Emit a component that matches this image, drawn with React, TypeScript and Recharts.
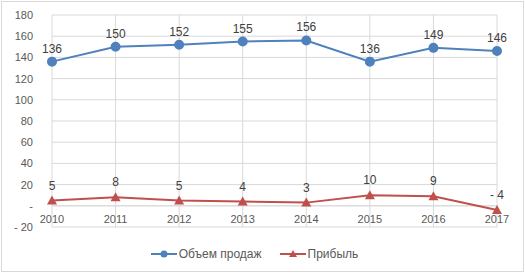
import { LineChart, Line, XAxis, YAxis, CartesianGrid, Legend, LabelList, ReferenceLine } from 'recharts';

const years = ['2010', '2011', '2012', '2013', '2014', '2015', '2016', '2017'];
const sales = [136, 150, 152, 155, 156, 136, 149, 146];
const profit = [5, 8, 5, 4, 3, 10, 9, -4];
const yTicks = [-20, 0, 20, 40, 60, 80, 100, 120, 140, 160, 180];

const SALES_NAME = 'Объем продаж';
const PROFIT_NAME = 'Прибыль';
const BLUE = '#4F81BD';
const RED = '#C0504D';
const FONT = '"Liberation Sans", Arial, sans-serif';

const data = years.map((year, i) => ({ year, sales: sales[i], profit: profit[i] }));

// excel accounting style: 0 -> "-", negatives -> "- 20"
const fmt = (v: any) => {
  const n = Number(v);
  if (n === 0) return '-';
  if (n < 0) return `- ${Math.abs(n)}`;
  return `${n}`;
};

const XTick = ({ x, y, payload }: any) => (
  <text x={x} y={y} dy={-4} textAnchor="middle" fill="#595959" fontSize={11} fontFamily={FONT}>
    {payload.value}
  </text>
);

const LegendContent = () => (
  <div style={{ display: 'flex', justifyContent: 'center', gap: 18, fontFamily: FONT, fontSize: 12, color: '#595959' }}>
    <div style={{ display: 'flex', alignItems: 'center', gap: 2 }}>
      <svg width={26} height={10}>
        <line x1={0} y1={5} x2={26} y2={5} stroke={BLUE} strokeWidth={2} />
        <circle cx={13} cy={5} r={3.5} fill={BLUE} />
      </svg>
      <span>{SALES_NAME}</span>
    </div>
    <div style={{ display: 'flex', alignItems: 'center', gap: 2 }}>
      <svg width={26} height={10}>
        <line x1={0} y1={5} x2={26} y2={5} stroke={RED} strokeWidth={2} />
        <polygon points="13,1 17,8 9,8" fill={RED} />
      </svg>
      <span>{PROFIT_NAME}</span>
    </div>
  </div>
);

const Triangle = ({ cx, cy }: any) => (
  <polygon points={`${cx},${cy - 5} ${cx + 5},${cy + 4} ${cx - 5},${cy + 4}`} fill={RED} />
);

export default function App() {
  return (
    <div style={{ position: 'absolute', left: 0, top: 0, width: 525, height: 273, background: '#fff' }}>
      <div style={{ position: 'absolute', left: 1, top: 1, width: 521, height: 269, border: '1px solid #d9d9d9' }} />
      <LineChart width={525} height={273} data={data} margin={{ top: 15, right: 28, left: 12, bottom: 16 }}>
        <CartesianGrid stroke="#d9d9d9" />
        <XAxis dataKey="year" height={10} tickSize={0} tickMargin={0} axisLine={false} tick={<XTick />} interval={0} />
        <YAxis
          width={40}
          domain={[-20, 180]}
          ticks={yTicks}
          tickFormatter={fmt}
          axisLine={false}
          tickLine={false}
          tickSize={0}
          tickMargin={19}
          tick={{ fill: '#595959', fontSize: 11, fontFamily: FONT }}
          interval={0}
        />
        <ReferenceLine y={0} stroke="#d9d9d9" />
        <Legend verticalAlign="bottom" height={20} wrapperStyle={{ bottom: 6 }} content={<LegendContent />} />
        <Line dataKey="sales" name={SALES_NAME} stroke={BLUE} strokeWidth={2} dot={{ r: 4, fill: BLUE, stroke: BLUE }} isAnimationActive={false}>
          <LabelList dataKey="sales" position="top" offset={9} formatter={fmt} fill="#404040" fontSize={12} fontFamily={FONT} />
        </Line>
        <Line dataKey="profit" name={PROFIT_NAME} stroke={RED} strokeWidth={2} dot={<Triangle />} isAnimationActive={false}>
          <LabelList dataKey="profit" position="top" offset={11} formatter={fmt} fill="#404040" fontSize={12} fontFamily={FONT} />
        </Line>
      </LineChart>
    </div>
  );
}
